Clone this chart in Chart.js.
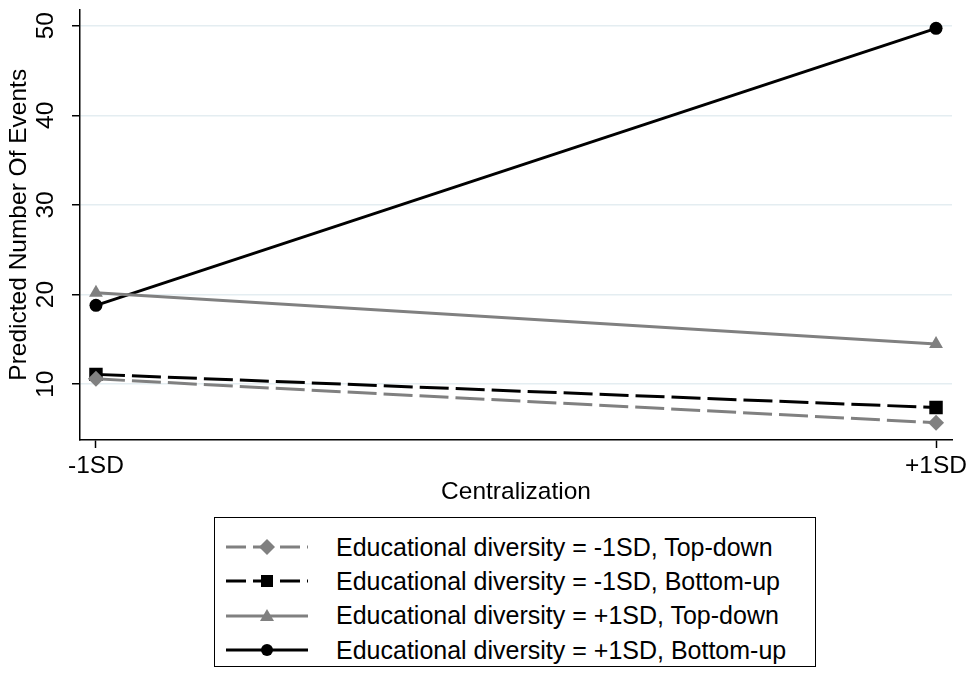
<!DOCTYPE html>
<html>
<head>
<meta charset="utf-8">
<script src="https://cdn.jsdelivr.net/npm/chart.js@4.4.1/dist/chart.umd.min.js"></script>
<style>
    body { margin: 0; background: #fff; font-family: "Liberation Sans", Arial, sans-serif; }
    #wrap { position: relative; width: 972px; height: 675px; }
    #chart-box { position: absolute; left: 0; top: 0; width: 972px; height: 510px; }
    #legend {
        position: absolute; left: 214px; top: 517px; width: 602px; height: 150px;
        border: 1px solid #000; box-sizing: border-box; padding-top: 12px;
    }
    .row { display: flex; align-items: center; height: 34.3px; }
    .row svg { margin-left: 11px; margin-right: 28px; }
    .row span { font-size: 25px; color: #000; }
</style>
</head>
<body>
<div id="wrap">
    <div id="chart-box"><canvas id="chart" width="972" height="510"></canvas></div>
    <div id="legend"></div>
</div>
<script>
// data
const xValues = [-1, 1];
const xLabels = ['-1SD', '+1SD'];
const yTicks = [10, 20, 30, 40, 50];

const seriesNames = [
    'Educational diversity = -1SD, Top-down',
    'Educational diversity = -1SD, Bottom-up',
    'Educational diversity = +1SD, Top-down',
    'Educational diversity = +1SD, Bottom-up'
];
const lowTopDown = [10.6, 5.7];
const lowBottomUp = [11.1, 7.4];
const highTopDown = [20.2, 14.5];
const highBottomUp = [18.8, 49.7];

const GRAY = '#808080';
const BLACK = '#000000';
const DASH = [29, 7];

const styles = [
    { color: GRAY, dash: DASH, point: 'rectRot', radius: 8 },
    { color: BLACK, dash: DASH, point: 'rect', radius: 9.5 },
    { color: GRAY, dash: [], point: 'triangle', radius: 8 },
    { color: BLACK, dash: [], point: 'circle', radius: 6.5 }
];
const seriesValues = [lowTopDown, lowBottomUp, highTopDown, highBottomUp];

const datasets = seriesValues.map((vals, i) => ({
    label: seriesNames[i],
    data: vals.map((v, j) => ({ x: xValues[j], y: v })),
    borderColor: styles[i].color,
    backgroundColor: styles[i].color,
    borderWidth: 3,
    borderDash: styles[i].dash,
    pointStyle: styles[i].point,
    pointRadius: styles[i].radius,
    pointBorderWidth: 0,
    pointBackgroundColor: styles[i].color,
    tension: 0
}));

const FONT = { family: '"Liberation Sans", Arial, sans-serif', size: 24.5 };

new Chart(document.getElementById('chart'), {
    type: 'line',
    data: { datasets },
    options: {
        responsive: false,
        animation: false,
        layout: { padding: { top: 8, right: 20, left: 0, bottom: 0 } },
        plugins: { legend: { display: false }, tooltip: { enabled: false } },
        scales: {
            x: {
                type: 'linear',
                min: -1.038,
                max: 1.038,
                afterBuildTicks: (scale) => { scale.ticks = xValues.map(v => ({ value: v })); },
                afterFit: (scale) => { scale.height = 70; scale.paddingLeft = 0; scale.paddingRight = 0; },
                ticks: {
                    color: BLACK,
                    font: FONT,
                    padding: 4,
                    maxRotation: 0,
                    autoSkip: false,
                    callback: (v) => xLabels[xValues.indexOf(v)]
                },
                grid: { drawOnChartArea: false, drawTicks: true, tickLength: 8, tickColor: BLACK, tickWidth: 1.5 },
                border: { display: true, color: BLACK, width: 1.5 },
                title: { display: true, text: 'Centralization', color: BLACK, font: FONT, padding: { top: 0, bottom: 3 } }
            },
            y: {
                min: 3.78,
                max: 51.8,
                afterBuildTicks: (scale) => { scale.ticks = yTicks.map(v => ({ value: v })); },
                afterFit: (scale) => { scale.width = 80; scale.paddingTop = 0; scale.paddingBottom = 0; },
                ticks: {
                    color: BLACK,
                    font: FONT,
                    padding: 12,
                    minRotation: 90,
                    maxRotation: 90,
                    crossAlign: 'center',
                    autoSkip: false
                },
                grid: { color: '#e4edf1', lineWidth: 1.5, drawTicks: true, tickLength: 8, tickColor: BLACK, tickWidth: 1.5 },
                border: { display: true, color: BLACK, width: 1.5 },
                title: { display: true, text: 'Predicted Number Of Events', color: BLACK, font: FONT, padding: { top: 5, bottom: 0 } }
            }
        }
    }
});

// legend with line samples
const legend = document.getElementById('legend');
styles.forEach((s, i) => {
    const row = document.createElement('div');
    row.className = 'row';
    const dash = s.dash.length ? 'stroke-dasharray="20 7"' : '';
    let marker = '';
    if (s.point === 'circle') marker = `<circle cx="41" cy="10" r="6" fill="${s.color}"/>`;
    if (s.point === 'rect') marker = `<rect x="35" y="4" width="12" height="12" fill="${s.color}"/>`;
    if (s.point === 'triangle') marker = `<polygon points="41,3 48,15 34,15" fill="${s.color}"/>`;
    if (s.point === 'rectRot') marker = `<polygon points="41,2 49,10 41,18 33,10" fill="${s.color}"/>`;
    row.innerHTML = `<svg width="82" height="20">
        <line x1="0" y1="10" x2="82" y2="10" stroke="${s.color}" stroke-width="3" ${dash}/>
        ${marker}</svg><span>${seriesNames[i]}</span>`;
    legend.appendChild(row);
});
</script>
</body>
</html>
